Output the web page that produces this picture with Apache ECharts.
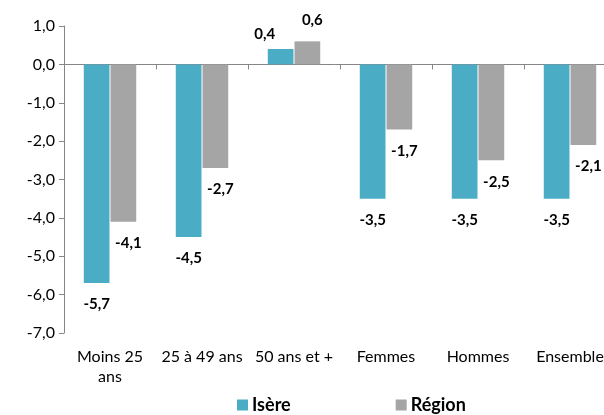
<!DOCTYPE html>
<html>
<head>
<meta charset="utf-8">
<script src="https://cdn.jsdelivr.net/npm/echarts@6/dist/echarts.min.js"></script>
<style>
  html, body { margin: 0; padding: 0; background: #fff; }
  #chart { width: 604px; height: 415px; }
</style>
</head>
<body>
<div id="chart"></div>
<script>
// data
var categories = ['Moins 25\nans', '25 à 49 ans', '50 ans et +', 'Femmes', 'Hommes', 'Ensemble'];
var isere = [-5.7, -4.5, 0.4, -3.5, -3.5, -3.5];
var region = [-4.1, -2.7, 0.6, -1.7, -2.5, -2.1];

var chart = echarts.init(document.getElementById('chart'));

function comma(v) {
  return Number(v).toFixed(1).replace('.', ',');
}

var labelStyle = {
  show: true,
  position: 'outside',
  distance: 14,
  fontFamily: 'Lato',
  fontWeight: 'bold',
  fontSize: 15,
  color: '#000',
  formatter: function (p) { return comma(p.value); }
};

var option = {
  animation: false,
  textStyle: { fontFamily: 'Lato' },
  // plot runs a bit past the right edge, like the original
  grid: { left: 64, width: 552, top: 26, height: 307, containLabel: false, outerBoundsMode: 'none' },
  legend: {
    top: 396,
    left: 237,
    padding: 0,
    itemWidth: 11,
    itemHeight: 11,
    itemGap: 105,
    textStyle: { fontFamily: 'Lato', fontSize: 18, fontWeight: 'bold', color: '#000', padding: [0, 0, 0, -1] },
    data: [
      { name: 'Isère', icon: 'rect' },
      { name: 'Région', icon: 'rect' }
    ]
  },
  xAxis: [{
    // labels at the bottom
    type: 'category',
    data: categories,
    position: 'bottom',
    axisLine: { show: false, onZero: false },
    axisTick: { show: false },
    axisLabel: { fontFamily: 'Lato', fontSize: 16, color: '#000', margin: 14, lineHeight: 20, interval: 0 }
  }, {
    // line through zero
    type: 'category',
    data: categories,
    position: 'bottom',
    axisLine: { show: true, onZero: true, lineStyle: { color: '#868686', width: 1 } },
    axisTick: { show: true, length: 5, lineStyle: { color: '#868686' } },
    axisLabel: { show: false }
  }],
  yAxis: {
    type: 'value',
    min: -7,
    max: 1,
    interval: 1,
    axisLine: { show: true, lineStyle: { color: '#868686' } },
    axisTick: { show: true, length: 5, lineStyle: { color: '#868686' } },
    splitLine: { show: false },
    axisLabel: {
      fontFamily: 'Lato', fontSize: 16, color: '#000', margin: 9,
      formatter: comma
    }
  },
  series: [{
    name: 'Isère',
    type: 'bar',
    xAxisIndex: 0,
    data: isere,
    barGap: '4%',
    barCategoryGap: '43%',
    itemStyle: { color: '#4BACC6' },
    label: labelStyle,
    // positive label sits a little to the left and lower, as in the original
    labelLayout: function (p) {
      return p.rect.y + p.rect.height <= p.labelRect.y ? {} : { dx: -16, dy: 7 };
    }
  }, {
    name: 'Région',
    type: 'bar',
    xAxisIndex: 0,
    data: region,
    itemStyle: { color: '#A5A5A5' },
    label: Object.assign({}, labelStyle, { offset: [5, 0] })
  }]
};

chart.setOption(option);
</script>
</body>
</html>
